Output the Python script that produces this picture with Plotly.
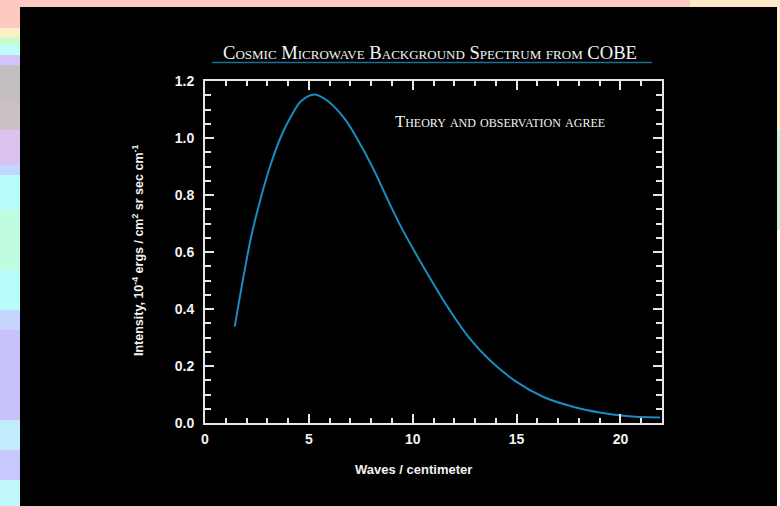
import plotly.graph_objects as go

# ---- data ----
wavenumber = [1.43, 1.83, 2.23, 2.71, 3.19, 3.67, 4.15, 4.63, 5.27, 5.91, 6.72, 7.36,
              8.09, 8.73, 9.375, 10.18, 10.98, 11.78, 12.74, 13.70, 14.98,
              16.27, 17.71, 18.99, 20.27, 21.9]
intensity = [0.338, 0.504, 0.656, 0.796, 0.913, 1.007, 1.077, 1.130, 1.153, 1.130, 1.068, 0.993,
             0.894, 0.794, 0.697, 0.590, 0.490, 0.396, 0.297, 0.221, 0.145,
             0.092, 0.057, 0.037, 0.025, 0.019]
x_ticks = [0, 5, 10, 15, 20]
x_tick_labels = ["0", "5", "10", "15", "20"]
y_ticks = [0.0, 0.2, 0.4, 0.6, 0.8, 1.0, 1.2]
y_tick_labels = ["0.0", "0.2", "0.4", "0.6", "0.8", "1.0", "1.2"]
title_text = "Cosmic Microwave Background Spectrum from COBE"
note_text = "Theory and observation agree"
x_title = "Waves / centimeter"
y_title = "Intensity, 10<sup>-4</sup> ergs / cm<sup>2</sup> sr sec cm<sup>-1</sup>"

W, H = 780, 506
L, R, T, B = 205, 118, 81, 83
PW, PH = W - L - R, H - T - B


def px(x):
    return (x - L) / PW


def py(y):
    return (H - B - y) / PH


axis_col = "#e6e6e6"
sans = "Liberation Sans, Arial, sans-serif"
serif = "Liberation Serif, Times New Roman, serif"

fig = go.Figure()
fig.add_trace(go.Scatter(
    x=wavenumber, y=intensity, mode="lines",
    line=dict(color="#1a8cc0", width=2, shape="spline", smoothing=1.0),
    hoverinfo="skip", showlegend=False,
))

common_axis = dict(
    showgrid=False, zeroline=False, showline=True, linecolor=axis_col, linewidth=2,
    mirror="ticks", ticks="inside", tickcolor=axis_col, tickwidth=1.6, ticklen=9,
    tickfont=dict(family=sans, size=14, color="#f2f2f2", weight="bold"),
)

fig.update_xaxes(
    range=[0, 22], tickvals=x_ticks, ticktext=x_tick_labels,
    minor=dict(dtick=1, ticks="inside", ticklen=5, tickcolor=axis_col, tickwidth=1.6, showgrid=False),
    ticklabelstandoff=2,
    **common_axis,
)
fig.update_yaxes(
    range=[0, 1.2], tickvals=y_ticks, ticktext=y_tick_labels,
    minor=dict(dtick=0.05, ticks="inside", ticklen=6, tickcolor=axis_col, tickwidth=1.6, showgrid=False),
    ticklabelstandoff=6,
    **common_axis,
)

shapes = []
# pastel blurred surroundings
strip_left = [
    (0, 28, "#fdc9c0"), (28, 37, "#fbf0c8"), (37, 45, "#c8fcc8"), (45, 55, "#c0fcfc"),
    (55, 65, "#d4c4fc"), (65, 100, "#c4bec0"), (100, 130, "#c8c0c4"), (130, 165, "#dcc2f0"),
    (165, 175, "#c0d8ff"), (175, 210, "#b8fcfc"), (210, 270, "#c0fce0"), (270, 310, "#b8fcfc"),
    (310, 330, "#c4d4fc"), (330, 420, "#c8c2fc"), (420, 450, "#c0ecfc"), (450, 480, "#c8c8fc"),
    (480, 506, "#c0f8fc"),
]
for y0, y1, c in strip_left:
    shapes.append(dict(type="rect", xref="paper", yref="paper", x0=px(0), x1=px(20),
                       y0=py(y1), y1=py(y0), fillcolor=c, line=dict(width=0), layer="below"))
strip_right = [(0, 100, "#fff2cc"), (100, 130, "#fff4c0"), (130, 230, "#c8f8dc"), (230, 506, "#ffffff")]
for y0, y1, c in strip_right:
    shapes.append(dict(type="rect", xref="paper", yref="paper", x0=px(777), x1=px(780),
                       y0=py(y1), y1=py(y0), fillcolor=c, line=dict(width=0), layer="below"))
shapes.append(dict(type="rect", xref="paper", yref="paper", x0=px(690), x1=px(780),
                   y0=py(7), y1=py(0), fillcolor="#fde8c8", line=dict(width=0), layer="below"))
# black panel
shapes.append(dict(type="rect", xref="paper", yref="paper", x0=px(20), x1=px(777),
                   y0=py(506), y1=py(7), fillcolor="#000000", line=dict(width=0), layer="below"))
# title underline
shapes.append(dict(type="line", xref="paper", yref="paper", x0=px(212), x1=px(652),
                   y0=py(62.5), y1=py(62.5), line=dict(color="#1f6f92", width=1.6)))

annotations = [
    dict(text=title_text, xref="paper", yref="paper", x=px(430), y=py(52), showarrow=False,
         xanchor="center", yanchor="middle",
         font=dict(family=serif, size=18.6, color="#f4f4f4", variant="small-caps")),
    dict(text=note_text, xref="paper", yref="paper", x=px(500), y=py(122), showarrow=False,
         xanchor="center", yanchor="middle",
         font=dict(family=serif, size=16.6, color="#f4f4f4", variant="small-caps")),
    dict(text=x_title, xref="paper", yref="paper", x=px(413), y=py(469), showarrow=False,
         xanchor="center", yanchor="middle",
         font=dict(family=sans, size=13, color="#f2f2f2", weight="bold")),
    dict(text=y_title, xref="paper", yref="paper", x=px(138), y=py(251), showarrow=False,
         xanchor="center", yanchor="middle", textangle=-90,
         font=dict(family=sans, size=12.5, color="#f2f2f2", weight="bold")),
]

fig.update_layout(
    width=W, height=H,
    margin=dict(l=L, r=R, t=T, b=B, pad=0),
    paper_bgcolor="#fdc9c0", plot_bgcolor="#000000",
    shapes=shapes, annotations=annotations, showlegend=False,
)

fig.write_html("out.html", config={"displayModeBar": False},
               post_script="document.body.style.margin='0px';")
